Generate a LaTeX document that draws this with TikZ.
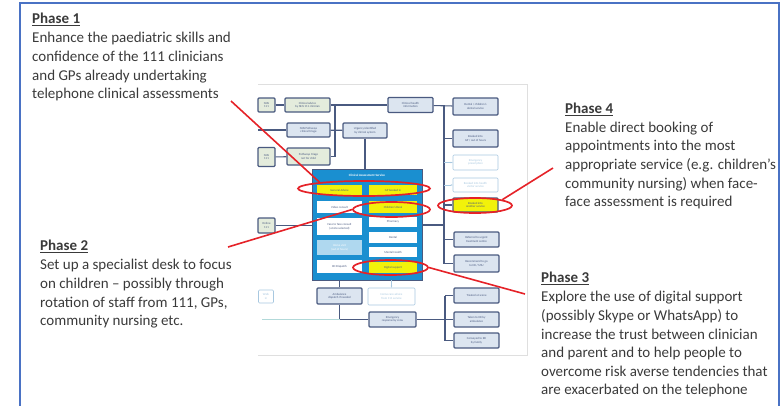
\documentclass[tikz,border=0pt]{standalone}
\usepackage{fontspec}
\setmainfont{Carlito}
\usetikzlibrary{shapes.geometric, arrows.meta}

\definecolor{phasetext}{HTML}{3A3A3A}
\definecolor{framblue}{HTML}{4A72C4}
\definecolor{casblue}{HTML}{1A8FD0}
\definecolor{boxline}{HTML}{4A5A80}
\definecolor{boxfill}{HTML}{DCE5F0}
\definecolor{greenfill}{HTML}{E4ECDC}
\definecolor{paleline}{HTML}{A8C8E0}
\definecolor{hlyellow}{HTML}{F2F20A}
\definecolor{ringred}{HTML}{E52228}

\tikzset{
  phase/.style={anchor=north west, inner sep=0pt, align=left, text=phasetext,
                font=\fontsize{15}{18.6}\selectfont},
  fbox/.style={draw=boxline, line width=1.1pt, fill=boxfill, rounded corners=1pt,
               inner sep=0.5pt, align=center, text=boxline,
               font=\fontsize{3}{3.5}\selectfont},
  gbox/.style={fbox, fill=greenfill},
  palebox/.style={fbox, draw=paleline, line width=0.6pt, fill=white, text=paleline},
  casbox/.style={fbox, draw=none, fill=white, rounded corners=0pt},
  hlbox/.style={casbox, fill=hlyellow},
  link/.style={draw=boxline, line width=1.1pt},
  palelink/.style={draw=paleline, line width=0.6pt, -{Stealth[length=2pt]}},
  ring/.style={ellipse, draw=ringred, line width=1.7pt, inner sep=0pt},
  pointer/.style={draw=ringred, line width=1.6pt}
}

\begin{document}
\begin{tikzpicture}[x=1pt, y=-1pt]
  \useasboundingbox (0,0) rectangle (782,405);
  % outer frame
  \draw[framblue, line width=1.8pt] (20,412) -- (20,3) -- (779,3) -- (779,412);

  % pasted flowchart, faint frame
  \draw[gray!25, line width=0.5pt] (258,84) -- (527,84) -- (527,355) -- (258,355);

  % left-hand entry boxes
  \node[gbox, minimum width=17, minimum height=14] (a1) at (266.5,105) {NHS\\111};
  \node[gbox, minimum width=45, minimum height=14] (a2) at (307.5,105) {Clinical advice\\by NHS 111 clinician};
  \node[fbox, minimum width=43, minimum height=14] (b2) at (308.5,130) {NHS Pathways\\clinical triage};
  \node[gbox, minimum width=17, minimum height=19] (c1) at (266.5,157) {NHS\\111};
  \node[gbox, minimum width=43, minimum height=17] (c2) at (308.5,156.5) {Pathways triage\\not for child};
  \node[fbox, minimum width=44, minimum height=15] (d) at (365,130.5) {Urgency identified\\by clinical system};
  \node[fbox, minimum width=45, minimum height=15] (e) at (410.5,105) {Clinical health\\information};
  \node[gbox, minimum width=17, minimum height=15] (p) at (266.5,225.5) {Online\\111};
  \node[palebox, minimum width=15, minimum height=13] (q) at (266,296.5) {Walk\\in};

  % clinical assessment service
  \node[draw=boxline, line width=0.6pt, fill=casblue, minimum width=110, minimum height=111,
        inner sep=0pt] (cas) at (367,224.5) {};
  \node[text=white, font=\fontsize{3.2}{3.5}\selectfont\bfseries] (cashead) at (367,175)
        {Clinical Assessment Service};
  \node[hlbox, minimum width=45, minimum height=10] (ga) at (339.5,190) {General Advice};
  \node[hlbox, minimum width=48, minimum height=10] (gp) at (393,190) {GP booked in};
  \node[casbox, minimum width=45, minimum height=12] (vc) at (339.5,207) {Video consult};
  \node[hlbox, minimum width=48, minimum height=12] (cd) at (393,207) {Children's Desk};
  \node[casbox, minimum width=45, minimum height=17] (ff) at (339.5,226.5) {Face to face consult\\(at site selected)};
  \node[casbox, minimum width=48, minimum height=10] (ph) at (393,222) {Pharmacy};
  \node[casbox, fill=casblue!35, text=white, minimum width=45, minimum height=15] (lb) at (339.5,247.5) {Home visit\\(out of hours)};
  \node[casbox, minimum width=48, minimum height=11] (de) at (393,237.5) {Dental};
  \node[casbox, minimum width=48, minimum height=10] (mh) at (393,252) {Mental Health};
  \node[casbox, minimum width=45, minimum height=13] (ed) at (339.5,266.5) {ED Dispatch};
  \node[hlbox, minimum width=48, minimum height=11] (ds) at (393,267.5) {Digital support};

  % outcomes on the right
  \node[fbox, minimum width=45, minimum height=17] (f) at (475.5,106.5) {Dental / children's\\dental service};
  \node[fbox, minimum width=45, minimum height=17] (g) at (475.5,138.5) {Booked into\\GP / out of hours};
  \node[palebox, minimum width=45, minimum height=15] (h) at (475.5,162.5) {Emergency\\prescription};
  \node[palebox, minimum width=45, minimum height=14] (i) at (475.5,185) {Booked into health\\visitor service};
  \node[fbox, fill=hlyellow, minimum width=45, minimum height=14] (j) at (475.5,205) {Booked into\\another service};
  \node[fbox, minimum width=45, minimum height=15] (k) at (476.5,239.5) {Referred to urgent\\treatment centre};
  \node[fbox, minimum width=45, minimum height=17] (l) at (476.5,263.5) {Recommend to go\\to ED / MIU};

  % lower chain
  \node[fbox, minimum width=45, minimum height=16] (amb) at (339.5,296) {Ambulance\\dispatch if needed};
  \node[palebox, minimum width=47, minimum height=17] (r) at (391.5,296.5) {Home care advice\\from 111 service};
  \node[fbox, minimum width=47, minimum height=15] (emg) at (392.5,319.5) {Emergency\\response by crew};
  \node[fbox, minimum width=45, minimum height=15] (m) at (476.5,295.5) {Treated at scene};
  \node[fbox, minimum width=45, minimum height=15] (n) at (476.5,319.5) {Taken to ED by\\ambulance};
  \node[fbox, minimum width=45, minimum height=15] (o) at (476.5,340.5) {Conveyed to ED\\by family};

  % trunk points
  \coordinate (tA) at (335,105);
  \coordinate (tC) at (335,156.5);
  \coordinate (tB) at (444,105);
  \coordinate (tL) at (444,263.5);
  \coordinate (tM) at (445,295.5);
  \coordinate (tO) at (445,340.5);
  \coordinate (inb) at (258,130);
  \coordinate (teal) at (262,319);

  % connectors
  \path[link] (a1) -- (a2);
  \path[link] (a2) -- (e);
  \path[link] (c1) -- (c2);
  \path[link] (c2.east) -- (tC) -- (tA);
  \path[link] (inb) -- (b2.west);
  \path[link] (b2) -- (d);
  \path[link] (d.south) -- (d.south |- cas.north);
  \path[link] (e) -- (f);
  \path[link] (tB) -- (tL) -- (l.west);
  \foreach \outc in {g, j, k}
    \path[link] (tB |- \outc.west) -- (\outc.west);
  \foreach \outc in {h, i}
    \path[palelink] (tB |- \outc.west) -- (\outc.west);
  \path[link] (cas.east |- 0,225) -- (tB |- 0,225);
  \path[link] (p.east) -- (cas.west |- p.east);
  \path[link] (amb.north |- cas.south) -- (amb.north);
  \path[palelink] (r.north |- cas.south) -- (r.north);
  \path[link] (amb.south) |- (emg.west);
  \path[draw=teal!30, line width=0.8pt] (teal) -- (teal -| amb.south);
  \path[link] (emg.east) -- (tM |- emg.east);
  \path[link] (tM) -- (tO);
  \foreach \outc in {m, n, o}
    \path[link] (tM |- \outc.west) -- (\outc.west);

  % highlight rings
  \node[ring, minimum width=132, minimum height=15] (ring1) at (364,188.5) {};
  \node[ring, minimum width=77, minimum height=15] (ring2) at (391.5,209.5) {};
  \node[ring, minimum width=75, minimum height=15] (ring3) at (390.5,267.5) {};
  \node[ring, minimum width=74, minimum height=15] (ring4) at (475,205.5) {};

  % phase texts
  \node[phase] (ph1) at (32,13) {\underline{\textbf{Phase 1}}\\[0.5pt]
    Enhance the paediatric skills and\\
    confidence of the 111 clinicians\\
    and GPs already undertaking\\
    telephone clinical assessments};
  \node[phase] (ph2) at (40,240) {\underline{\textbf{Phase 2}}\\[0.5pt]
    Set up a specialist desk to focus\\
    on children -- possibly through\\
    rotation of staff from 111, GPs,\\
    community nursing etc.};
  \node[phase] (ph4) at (565,102.5) {\underline{\textbf{Phase 4}}\\[0.5pt]
    Enable direct booking of\\
    appointments into the most\\
    appropriate service (e.g. children's\\
    community nursing) when face-\\
    face assessment is required};
  \node[phase] (ph3) at (541,272) {\underline{\textbf{Phase 3}}\\[0.5pt]
    Explore the use of digital support\\
    (possibly Skype or WhatsApp) to\\
    increase the trust between clinician\\
    and parent and to help people to\\
    overcome risk averse tendencies that\\
    are exacerbated on the telephone};

  % pointers
  \coordinate (p1) at (231,101);
  \coordinate (p2) at (228,247);
  \coordinate (p3) at (525,294);
  \coordinate (p4) at (553,168);
  \path[pointer] (p1) -- (ring1.172);
  \path[pointer] (p2) -- (ring2.west);
  \path[pointer] (ring3.east) -- (p3);
  \path[pointer] (ring4.12) -- (p4);
\end{tikzpicture}
\end{document}
